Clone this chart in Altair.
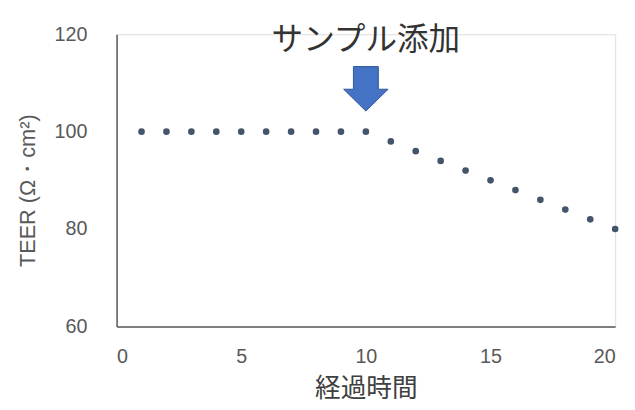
import altair as alt
import pandas as pd

hours = list(range(1, 21))
teer = [100, 100, 100, 100, 100, 100, 100, 100, 100, 100,
        98, 96, 94, 92, 90, 88, 86, 84, 82, 80]

annot_label = ["サンプル添加"]
annot_x = [10]
annot_text_y = [118.7]
arrow_y = [108.8]

df = pd.DataFrame({"hour": hours, "teer": teer})
df_text = pd.DataFrame({"x": annot_x, "y": annot_text_y, "label": annot_label})
df_arrow = pd.DataFrame({"x": annot_x, "y": arrow_y})

xscale = alt.Scale(domain=[0, 20], nice=False, zero=False)
yscale = alt.Scale(domain=[60, 120], nice=False, zero=False)

axis_common = dict(
    grid=False, ticks=False, domainColor="#595959", domainWidth=1.5,
    labelColor="#595959", labelFont="Liberation Sans", labelFontSize=20,
    titleFontWeight="normal",
)

points = alt.Chart(df).mark_circle(size=45, color="#44546A", opacity=1).encode(
    x=alt.X("hour:Q", scale=xscale,
            axis=alt.Axis(values=[0, 5, 10, 15, 20], labelPadding=21, title="経過時間",
                          titleFont="Noto Sans CJK JP", titleFontSize=26, titleY=63,
                          titleColor="#404040", titleBaseline="middle", **axis_common)),
    y=alt.Y("teer:Q", scale=yscale,
            axis=alt.Axis(values=[60, 80, 100, 120], labelPadding=30, title="TEER (Ω・cm²)",
                          titleFont="Liberation Sans", titleFontSize=22, titleAngle=-90,
                          titleX=-90, titleY=158, titleColor="#595959",
                          titleBaseline="middle", titleAlign="center", **axis_common)),
)

text = alt.Chart(df_text).mark_text(
    font="Noto Sans CJK JP", fontSize=32, color="#333333", baseline="middle", align="center"
).encode(x=alt.X("x:Q", scale=xscale), y=alt.Y("y:Q", scale=yscale), text="label:N")

arrow_path = "M -0.56 -1 L 0.56 -1 L 0.56 0.02 L 1 0.02 L 0 1 L -1 0.02 L -0.56 0.02 Z"
arrow = alt.Chart(df_arrow).mark_point(
    shape=arrow_path, size=2025, filled=True, fill="#4472C4", stroke="#2F5597",
    strokeWidth=1, opacity=1
).encode(x=alt.X("x:Q", scale=xscale), y=alt.Y("y:Q", scale=yscale))

chart = alt.layer(points, text, arrow).properties(
    width=505, height=296,
    autosize=alt.AutoSizeParams(type="none"),
    padding={"left": 110, "top": 24, "right": 12, "bottom": 80},
).configure_view(stroke=None).configure(background="white")

chart.save("out.html", embed_options={"renderer": "svg", "actions": False})
